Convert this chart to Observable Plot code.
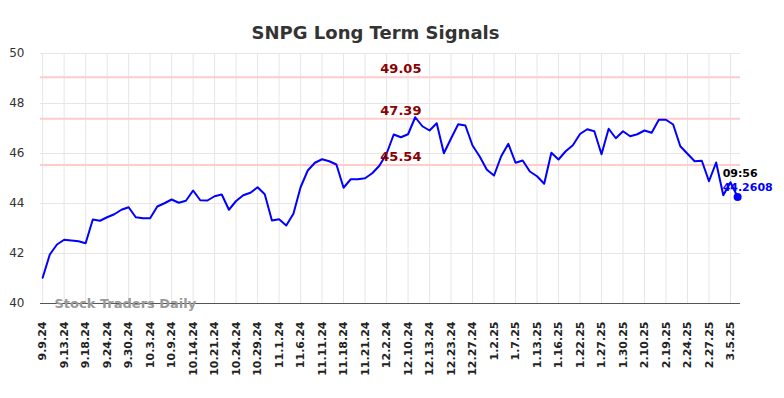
<!DOCTYPE html>
<html>
<head>
<meta charset="utf-8">
<script src="https://cdn.jsdelivr.net/npm/d3@7"></script>
<script src="https://cdn.jsdelivr.net/npm/@observablehq/plot@0.6"></script>
<style>
  html, body { margin: 0; padding: 0; background: #fff; }
  #chart svg { display: block; }
</style>
</head>
<body>
<div id="chart"></div>
<script>
const title = "SNPG Long Term Signals";
const tickLabels = ["9.9.24","9.13.24","9.18.24","9.24.24","9.30.24","10.3.24","10.9.24","10.14.24","10.21.24","10.24.24","10.29.24","11.1.24","11.6.24","11.11.24","11.18.24","11.21.24","12.2.24","12.10.24","12.13.24","12.23.24","12.27.24","1.2.25","1.7.25","1.13.25","1.16.25","1.22.25","1.27.25","1.30.25","2.10.25","2.19.25","2.24.25","2.27.25","3.5.25"];
const prices = [41.03,41.96,42.36,42.55,42.52,42.49,42.41,43.36,43.31,43.45,
  43.57,43.75,43.85,43.45,43.41,43.41,43.88,44.01,44.16,44.03,
  44.11,44.52,44.13,44.12,44.29,44.36,43.75,44.10,44.33,44.43,
  44.65,44.37,43.32,43.37,43.12,43.59,44.65,45.32,45.63,45.77,
  45.69,45.56,44.63,44.97,44.97,45.01,45.21,45.51,45.99,46.76,
  46.65,46.77,47.45,47.09,46.92,47.21,46.01,46.60,47.17,47.12,
  46.32,45.88,45.35,45.12,45.89,46.39,45.63,45.72,45.28,45.09,
  44.79,46.03,45.76,46.09,46.33,46.78,46.97,46.89,45.97,46.99,
  46.61,46.89,46.69,46.77,46.92,46.83,47.35,47.35,47.16,46.29,
  45.99,45.69,45.71,44.89,45.64,44.33,44.85,44.2608];
const levels = [49.05, 47.39, 45.54];
const lastTime = "09:56";
const lastValue = "44.2608";
const yTicks = [40, 42, 44, 46, 48, 50];
const watermark = "Stock Traders Daily";

const data = prices.map((v, i) => ({i, v}));
const tickIdx = tickLabels.map((_, k) => k * 3);
const last = data[data.length - 1];

const chart = Plot.plot({
  width: 784,
  height: 398,
  marginTop: 53,
  marginBottom: 95,
  marginLeft: 40,
  marginRight: 44,
  style: {fontFamily: "DejaVu Sans", background: "#fff"},
  x: {domain: [-0.3, 97.4], axis: null},
  y: {domain: [40, 50], axis: null},
  marks: [
    Plot.gridX(tickIdx, {stroke: "#e6e6e6", strokeOpacity: 1, strokeWidth: 1}),
    Plot.gridY(yTicks, {stroke: "#e6e6e6", strokeOpacity: 1, strokeWidth: 1}),
    Plot.ruleY(levels, {stroke: "#ffcccc", strokeWidth: 2}),
    Plot.ruleY([40], {stroke: "#555", strokeWidth: 1}),
    Plot.line(data, {x: "i", y: "v", stroke: "#0000ff", strokeWidth: 2}),
    Plot.text(levels, {x: () => 50, y: d => d, text: d => d.toFixed(2), dy: -8, fill: "#8b0000", fontWeight: "bold", fontSize: 13}),
    Plot.dot([last], {x: "i", y: "v", r: 4, fill: "#0000ff", stroke: "none"}),
    Plot.text([last], {x: "i", y: "v", text: () => lastTime, dx: -15, dy: -24, textAnchor: "start", fill: "#000", fontWeight: "bold", fontSize: 11}),
    Plot.text([last], {x: "i", y: "v", text: () => lastValue, dx: -15, dy: -10, textAnchor: "start", fill: "#0000ff", fontWeight: "bold", fontSize: 11}),
    Plot.axisX(tickIdx, {tickFormat: d => tickLabels[d / 3], tickRotate: -90, tickSize: 0, tickPadding: 18, fontSize: 11, fontWeight: "bold", fill: "#222", label: null}),
    Plot.axisY(yTicks, {tickSize: 0, tickPadding: 16, fontSize: 12, fill: "#333", label: null}),
    Plot.text([watermark], {frameAnchor: "bottom-left", textAnchor: "start", lineAnchor: "middle", dx: 14, dy: 0, fill: "#999", fontWeight: "bold", fontSize: 13}),
    Plot.text([title], {frameAnchor: "top", dy: -27, dx: -15, fontSize: 18, fontWeight: "bold", fill: "#333"})
  ]
});
document.getElementById("chart").appendChild(chart);
</script>
</body>
</html>
